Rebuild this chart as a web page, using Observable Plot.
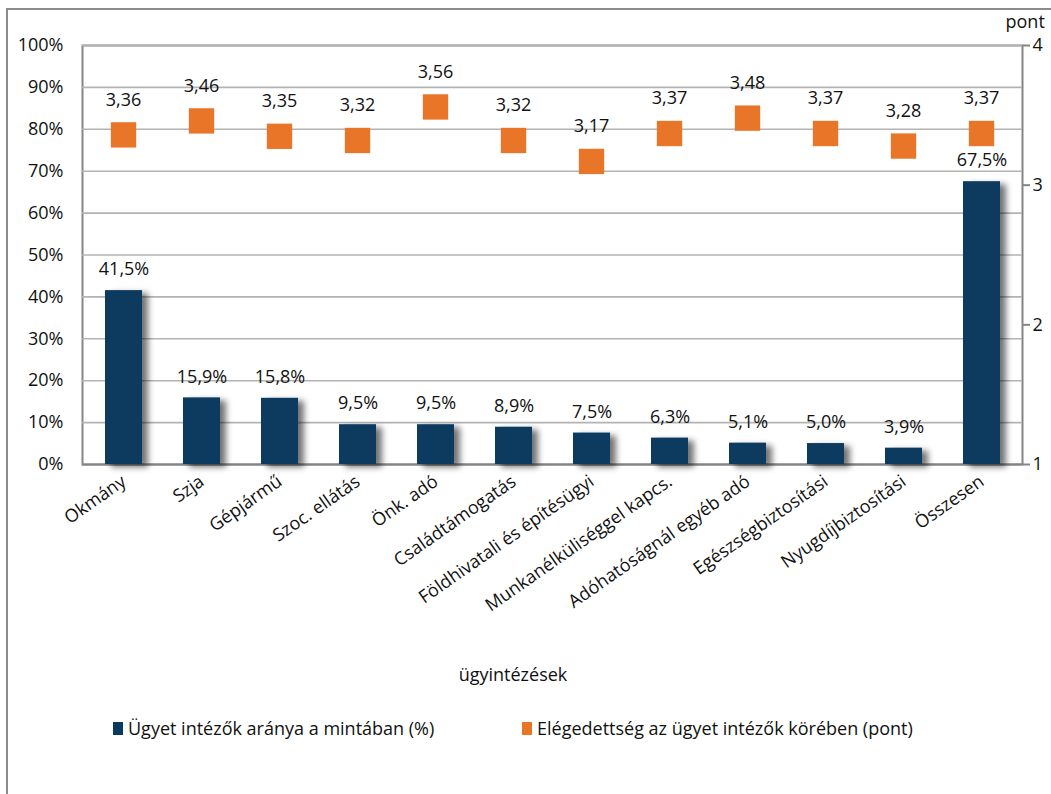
<!DOCTYPE html>
<html>
<head>
<meta charset="utf-8">
<script src="https://cdn.jsdelivr.net/npm/d3@7"></script>
<script src="https://cdn.jsdelivr.net/npm/@observablehq/plot@0.6"></script>
<style>
  html, body { margin: 0; padding: 0; background: #fff; }
  body { width: 1051px; height: 794px; overflow: hidden; position: relative; font-family: "Open Sans", sans-serif; color: #111; }
  #border { position: absolute; left: 6px; top: 8px; width: 1100px; height: 900px; border: 2px solid #8c8c8c; box-sizing: border-box; }
  .layer { position: absolute; left: 0; top: 0; }
  #xtitle { position: absolute; top: 662px; left: 0; width: 1026px; text-align: center; font-size: 18px; }
  #legend { position: absolute; top: 716px; left: 0; width: 1051px; font-size: 18px; }
  .item { position: absolute; display: flex; align-items: center; white-space: nowrap; }
  .sw { width: 10px; height: 13px; margin-right: 5px; display: inline-block; }
</style>
</head>
<body>
<div id="border"></div>
<div id="p1" class="layer"></div>
<div id="p2" class="layer"></div>
<div id="xtitle">ügyintézések</div>
<div id="legend"></div>
<script>
const categories = ["Okmány", "Szja", "Gépjármű", "Szoc. ellátás", "Önk. adó", "Családtámogatás",
  "Földhivatali és építésügyi", "Munkanélküliséggel kapcs.", "Adóhatóságnál egyéb adó",
  "Egészségbiztosítási", "Nyugdíjbiztosítási", "Összesen"];
const sharePct = [41.5, 15.9, 15.8, 9.5, 9.5, 8.9, 7.5, 6.3, 5.1, 5.0, 3.9, 67.5];
const satisfaction = [3.36, 3.46, 3.35, 3.32, 3.56, 3.32, 3.17, 3.37, 3.48, 3.37, 3.28, 3.37];
const leftTicks = [0, 10, 20, 30, 40, 50, 60, 70, 80, 90, 100];
const rightTicks = [1, 2, 3, 4];
const rightUnit = "pont";
const seriesNames = ["Ügyet intézők aránya a mintában (%)", "Elégedettség az ügyet intézők körében (pont)"];
const colors = ["#0b3a5e", "#e97628"];

const rows = categories.map((c, i) => ({cat: c, pct: sharePct[i], pont: satisfaction[i]}));
const comma = (v, d) => v.toFixed(d).replace(".", ",");

const W = 1051, H = 700;
const common = {
  width: W, height: H,
  marginTop: 45, marginBottom: 236, marginLeft: 82, marginRight: 29,
  style: {fontFamily: "Open Sans, sans-serif", fontSize: "18px", color: "#111", background: "transparent", overflow: "visible"}
};
const xScale = {domain: categories, paddingInner: 0.53, paddingOuter: 0.265};

const p1 = Plot.plot({
  ...common,
  x: {...xScale, label: null},
  y: {domain: [0, 100]},
  marks: [
    Plot.frame({stroke: "#858585", strokeWidth: 2}),
    Plot.gridY(leftTicks, {stroke: "#b3b3b3", strokeOpacity: 1, strokeWidth: 1.6}),
    Plot.ruleY([0], {stroke: "#858585", strokeWidth: 2}),
    Plot.barY(rows, {x: "cat", y: "pct", fill: colors[0]}),
    Plot.text(rows, {x: "cat", y: "pct", text: d => comma(d.pct, 1) + "%", dy: -21, fontSize: 18, fill: "#111"}),
    Plot.axisY(leftTicks, {anchor: "left", tickSize: 0, tickPadding: 19, tickFormat: d => d + "%", label: null, fontSize: 18}),
    Plot.axisX({tickRotate: -35, tickSize: 0, tickPadding: 15, label: null, fontSize: 18})
  ]
});

const p2 = Plot.plot({
  ...common,
  x: {...xScale, axis: null},
  y: {domain: [1, 4]},
  marks: [
    Plot.dot(rows, {x: "cat", y: "pont", symbol: "square", r: 14.3, fill: colors[1], stroke: "none"}),
    Plot.text(rows, {x: "cat", y: "pont", text: d => comma(d.pont, 2), dy: -35, fontSize: 18, fill: "#111"}),
    Plot.axisY(rightTicks, {anchor: "right", tickSize: 7, tickPadding: 3, tickFormat: d => String(d), stroke: "#858585", strokeWidth: 2, label: null, fontSize: 18, textAnchor: "start"}),
    Plot.text([rightUnit], {frameAnchor: "top-right", text: d => d, textAnchor: "start", lineAnchor: "middle", dx: -17, dy: -23, fontSize: 18, fill: "#111"})
  ]
});

// drop shadow for bars
const ns = "http://www.w3.org/2000/svg";
const defs = document.createElementNS(ns, "defs");
defs.innerHTML = `<filter id="barShadow" x="-30%" y="-10%" width="180%" height="130%">
  <feGaussianBlur in="SourceAlpha" stdDeviation="3"/>
  <feOffset dx="6" dy="3" result="o"/>
  <feComponentTransfer><feFuncA type="linear" slope="0.55"/></feComponentTransfer>
  <feMerge><feMergeNode/><feMergeNode in="SourceGraphic"/></feMerge>
</filter>`;
p1.insertBefore(defs, p1.firstChild);
p1.querySelectorAll('g[aria-label="bar"]').forEach(g => g.setAttribute("filter", "url(#barShadow)"));

document.getElementById("p1").appendChild(p1);
document.getElementById("p2").appendChild(p2);

// legend
const legend = document.getElementById("legend");
const lx = [113, 522];
seriesNames.forEach((n, i) => {
  const it = document.createElement("div");
  it.className = "item";
  it.style.left = lx[i] + "px";
  it.innerHTML = `<span class="sw" style="background:${colors[i]}"></span><span>${n}</span>`;
  legend.appendChild(it);
});
</script>
</body>
</html>
